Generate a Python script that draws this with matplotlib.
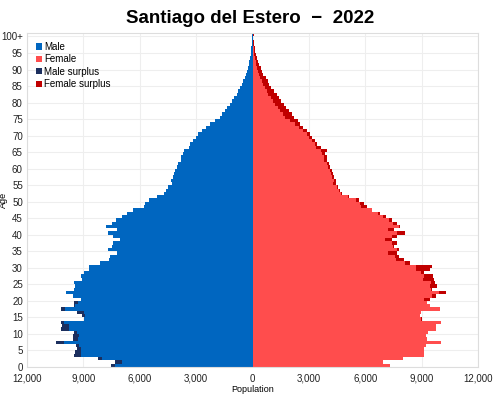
import numpy as np
import matplotlib
matplotlib.use("Agg")
import matplotlib.pyplot as plt

plt.rcParams['font.family'] = ['Liberation Sans', 'DejaVu Sans']

ages = np.arange(0, 101)

# population by single year of age (100 = 100+)
male = [7520, 7300, 8230, 9500, 9420, 9330, 9370, 10480, 9540, 9560,
        9500, 10210, 10120, 10210, 8970, 9060, 9330, 10210, 9500, 9500,
        9100, 9550, 9950, 9500, 9420, 9500, 9060, 9150, 8970, 8700,
        8700, 8090, 7650, 7560, 7200, 7680, 7470, 7400, 7060, 7400,
        7700, 7230, 7770, 7470, 7290, 6930, 6670, 6350, 5780, 5700,
        5520, 5060, 4700, 4600, 4500, 4300, 4350, 4250, 4200, 4100,
        4000, 3950, 3800, 3780, 3700, 3650, 3400, 3330, 3180, 3030,
        2880, 2680, 2500, 2250, 1980, 1720, 1620, 1450, 1360, 1220,
        1090, 960, 850, 770, 670, 550, 490, 420, 360, 300,
        250, 200, 160, 120, 100, 80, 60, 45, 30, 20, 40]
female = [7300, 6950, 8020, 9120, 9120, 9150, 9250, 10020, 9290, 9250,
          9350, 9790, 9760, 10050, 9030, 8940, 8960, 10000, 9470, 9260,
          9470, 9780, 10320, 9560, 9830, 9730, 9650, 9600, 9100, 9450,
          9550, 8370, 8050, 7800, 7700, 7790, 7520, 7700, 7430, 7700,
          8140, 7520, 7870, 7700, 7430, 7130, 6810, 6370, 6100, 5920,
          5660, 5120, 4770, 4680, 4540, 4470, 4420, 4330, 4290, 4240,
          4150, 4060, 3970, 3940, 3880, 3970, 3620, 3440, 3350, 3170,
          3070, 2890, 2710, 2540, 2410, 2230, 2090, 1950, 1770, 1650,
          1520, 1420, 1290, 1120, 990, 890, 820, 710, 580, 530,
          460, 350, 290, 230, 180, 140, 110, 80, 60, 40, 70]

ytick_vals = list(range(0, 101, 5))
ytick_labels = [str(v) for v in ytick_vals[:-1]] + ['100+']
xtick_vals = [-12000, -9000, -6000, -3000, 0, 3000, 6000, 9000, 12000]
xtick_labels = ['12,000', '9,000', '6,000', '3,000', '0', '3,000', '6,000', '9,000', '12,000']

c_male = '#0066c0'
c_female = '#ff4d4d'
c_msur = '#1c2f5e'
c_fsur = '#c00000'

m = np.array(male)
f = np.array(female)
common = np.minimum(m, f)

fig = plt.figure(figsize=(5, 3.95), dpi=100)
ax = fig.add_axes([0.054, 0.071, 0.902, 0.845])

ax.barh(ages, -common, height=1, align='edge', color=c_male, lw=0, label='Male')
ax.barh(ages, common, height=1, align='edge', color=c_female, lw=0, label='Female')
ax.barh(ages, -(m - common), left=-common, height=1, align='edge', color=c_msur, lw=0, label='Male surplus')
ax.barh(ages, f - common, left=common, height=1, align='edge', color=c_fsur, lw=0, label='Female surplus')

ax.set_xlim(-12000, 12000)
ax.set_ylim(0, 101)
ax.set_yticks(ytick_vals)
ax.set_yticklabels(ytick_labels)
ax.set_xticks(xtick_vals)
ax.set_xticklabels(xtick_labels)
ax.tick_params(length=0, labelsize=7, colors='#222222')
ax.tick_params(axis='x', pad=5)
ax.tick_params(axis='y', pad=3)
ax.grid(True, color='#eeeeee', lw=0.8)
ax.set_axisbelow(True)
for s in ax.spines.values():
    s.set_color('#dddddd')
    s.set_linewidth(0.8)

ax.set_ylabel('Age', fontsize=6.5)
ax.yaxis.set_label_coords(-0.043, 0.5)
ax.set_xlabel('Population', fontsize=6.5, labelpad=1)
fig.suptitle('Santiago del Estero  \u2212  2022', fontsize=13.5, fontweight='bold', y=0.975)

leg = ax.legend(loc='upper left', frameon=False, fontsize=7, handlelength=0.6,
                handleheight=0.6, handletextpad=0.3, labelspacing=0.25,
                borderaxespad=0.5)

fig.savefig('out.png', dpi=100)
